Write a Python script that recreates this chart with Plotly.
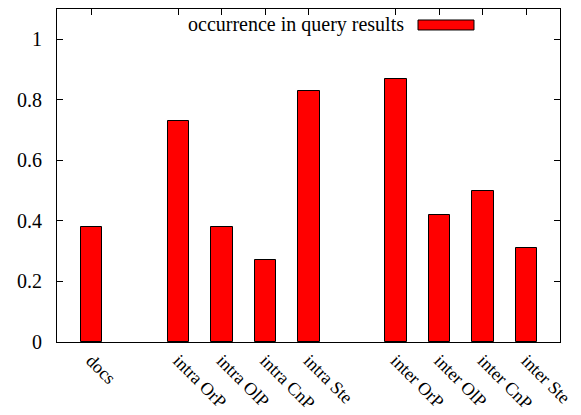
import plotly.graph_objects as go

# Data
groups = [
    ["docs"],
    ["intra OrP", "intra OlP", "intra CnP", "intra Ste"],
    ["inter OrP", "inter OlP", "inter CnP", "inter Ste"],
]
values = [0.38, 0.73, 0.38, 0.27, 0.83, 0.87, 0.42, 0.50, 0.31]
series_name = "occurrence in query results"
y_ticks = [0, 0.2, 0.4, 0.6, 0.8, 1]
y_tick_labels = ["0", "0.2", "0.4", "0.6", "0.8", "1"]

# positions: one empty slot between groups
labels, xpos = [], []
pos = 0
for g in groups:
    for name in g:
        labels.append(name)
        xpos.append(pos)
        pos += 1
    pos += 1

FONT = "Liberation Serif"

fig = go.Figure()
fig.add_trace(go.Bar(
    x=xpos, y=values, width=0.5, name=series_name,
    marker=dict(color="#ff0000", line=dict(color="#000000", width=1)),
    showlegend=False,
))

# page body has an 8px default margin, so the figure is 8px smaller
fig.update_layout(
    width=573, height=407,
    margin=dict(l=49, r=21, t=1, b=73, autoexpand=False),
    plot_bgcolor="white", paper_bgcolor="white",
    font=dict(family=FONT, size=20, color="black"),
    bargap=0,
)
fig.update_xaxes(
    range=[-0.79, 10.77], tickmode="array", tickvals=xpos, ticktext=labels,
    tickangle=45, ticks="inside", ticklen=6, tickcolor="black",
    showline=True, linecolor="black", linewidth=1, mirror="ticks",
    showgrid=False, zeroline=False, layer="below traces", automargin=False,
    tickfont=dict(family=FONT, size=18, color="black"),
)
fig.update_yaxes(
    range=[0, 1.1], tickmode="array", tickvals=y_ticks, ticktext=y_tick_labels,
    ticks="inside", ticklen=6, tickcolor="black",
    showline=True, linecolor="black", linewidth=1, mirror="ticks",
    showgrid=False, zeroline=False, automargin=False, ticklabelstandoff=10,
    tickfont=dict(family=FONT, size=20, color="black"),
)

# gnuplot-style legend: text then sample box on the right
fig.add_annotation(
    xref="paper", yref="paper", x=0.694, y=0.952, xanchor="right", yanchor="middle",
    text=series_name, showarrow=False, font=dict(family=FONT, size=20, color="black"),
)
fig.add_shape(
    type="rect", xref="paper", yref="paper",
    x0=0.7177, x1=0.829, y0=0.937, y1=0.967,
    fillcolor="#ff0000", line=dict(color="black", width=1),
)

fig.write_html("out.html")
